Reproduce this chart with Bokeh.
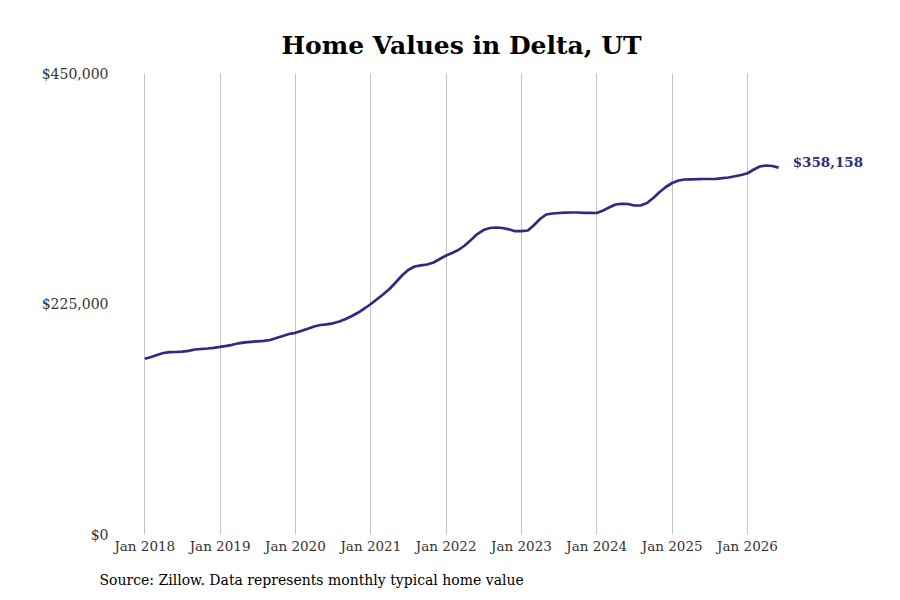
import pandas as pd
from datetime import datetime, timedelta
from bokeh.plotting import figure
from bokeh.models import (FixedTicker, NumeralTickFormatter, Range1d, Title,
                          DatetimeTickFormatter, ColumnDataSource)
from bokeh.core.properties import value
from bokeh.embed import file_html
from bokeh.resources import INLINE

# ---------------- data ----------------
TITLE = "Home Values in Delta, UT"
SOURCE_NOTE = "Source: Zillow. Data represents monthly typical home value"
START_MONTH = "2018-01-01"
HOME_VALUES = [
    171500, 173260, 175210, 177160, 177940, 178140, 178430, 179310, 180580, 181070, 181550, 182240,
    183210, 184190, 185170, 186630, 187610, 188100, 188580, 189070, 189850, 191810, 193760, 195710,
    196880, 198930, 200880, 203030, 204490, 205180, 206150, 207910, 210350, 213280, 216690, 220600,
    224990, 229870, 234260, 239630, 245980, 252810, 258180, 261600, 262770, 263550, 265500, 268920,
    272330, 274970, 277700, 282100, 287460, 293320, 297220, 299180, 299670, 299180, 297910, 296050,
    296050, 296730, 301620, 307960, 312350, 313330, 313820, 314110, 314300, 314300, 314010, 314010,
    313820, 316260, 319190, 322110, 322800, 322600, 321140, 321140, 323580, 328460, 334310, 339200,
    343100, 345540, 346520, 346710, 346810, 347010, 347010, 347200, 347790, 348470, 349740, 350910,
    352670, 356280, 359210, 360180, 359700, 358158,
]
TICK_YEARS = [2018, 2019, 2020, 2021, 2022, 2023, 2024, 2025, 2026]
TICK_LABELS = ["Jan 2018", "Jan 2019", "Jan 2020", "Jan 2021", "Jan 2022",
               "Jan 2023", "Jan 2024", "Jan 2025", "Jan 2026"]
Y_TICKS = [0, 225000, 450000]
Y_TICK_LABELS = ["$0", "$225,000", "$450,000"]
END_LABEL = "$358,158"

# ---------------- styling ----------------
LINE_COLOR = "#2e2a86"
GRID_COLOR = "#c4c4c4"
TEXT_COLOR = "#333333"
FONT = "DejaVu Serif"

dates = pd.date_range(START_MONTH, periods=len(HOME_VALUES), freq="MS")
src = ColumnDataSource(dict(date=dates, val=HOME_VALUES))

x_start = datetime(2018, 1, 1) - timedelta(days=156.6)
x_end = datetime(2026, 1, 1) + timedelta(days=625.4)

p = figure(width=884, height=600, x_axis_type="datetime",
           x_range=Range1d(x_start, x_end), y_range=Range1d(0, 450000),
           output_backend="svg", toolbar_location=None,
           min_border_left=112, min_border_right=8,
           min_border_top=73, min_border_bottom=0)
p.outline_line_color = None
p.background_fill_color = "white"
p.border_fill_color = "white"

p.line("date", "val", source=src, line_color=LINE_COLOR, line_width=2.7)

p.text(x=[dates[-1]], y=[HOME_VALUES[-1]], text=[END_LABEL], x_offset=14, y_offset=-6,
       text_baseline="middle", text_align="left", text_font=value(FONT),
       text_font_style="bold", text_font_size="13.5px", text_color=LINE_COLOR)

# axes
tick_ms = [pd.Timestamp(f"{y}-01-01").value / 1e6 for y in TICK_YEARS]
p.xaxis.ticker = FixedTicker(ticks=tick_ms)
p.xaxis.formatter = DatetimeTickFormatter(years="%b %Y", months="%b %Y", days="%b %Y")
p.xaxis.major_label_overrides = {t: lab for t, lab in zip(tick_ms, TICK_LABELS)}
p.yaxis.ticker = FixedTicker(ticks=Y_TICKS)
p.yaxis.formatter = NumeralTickFormatter(format="$0,0")
p.yaxis.major_label_overrides = {t: lab for t, lab in zip(Y_TICKS, Y_TICK_LABELS)}

for ax in (p.xaxis[0], p.yaxis[0]):
    ax.axis_line_color = None
    ax.major_tick_line_color = None
    ax.minor_tick_line_color = None
    ax.major_label_text_font = FONT
    ax.major_label_text_color = TEXT_COLOR
p.xaxis.major_label_text_font_size = "13.5px"
p.yaxis.major_label_text_font_size = "14px"
p.xaxis.major_label_standoff = -3
p.yaxis.major_label_standoff = -2

p.xgrid.grid_line_color = GRID_COLOR
p.xgrid.grid_line_width = 1
p.ygrid.grid_line_color = None

p.title = Title(text=TITLE, align="left", offset=169, text_font=FONT,
                text_font_style="bold", text_font_size="25px", text_color="black",
                standoff=28)
p.add_layout(Title(text=SOURCE_NOTE, align="left", offset=-13, text_font=FONT,
                   text_font_style="normal", text_font_size="14px", text_color="black",
                   standoff=26), "below")

open("out.html", "w").write(file_html(p, INLINE))
